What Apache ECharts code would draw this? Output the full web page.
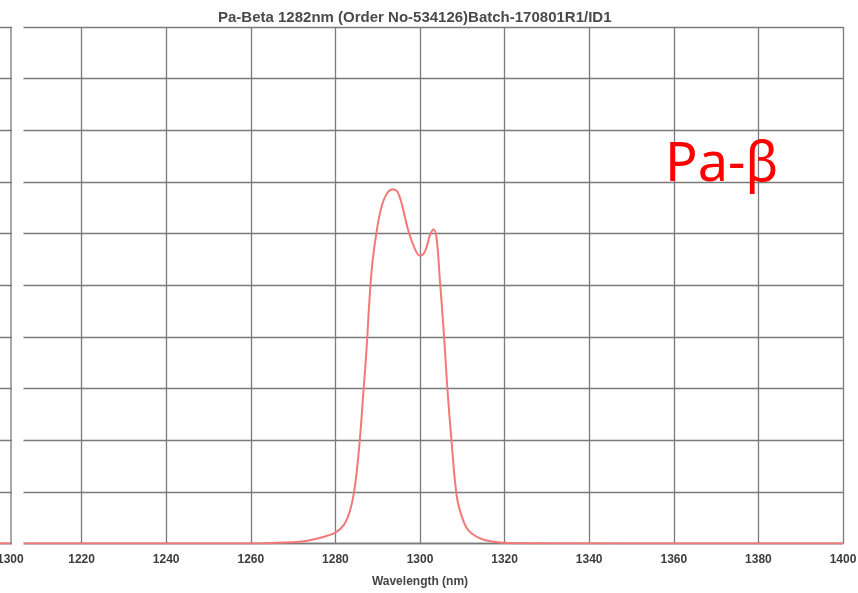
<!DOCTYPE html>
<html>
<head>
<meta charset="utf-8">
<script src="https://cdn.jsdelivr.net/npm/echarts@6/dist/echarts.min.js"></script>
<style>
html,body{margin:0;padding:0;background:#fff;}
#chart{width:858px;height:593px;}
</style>
</head>
<body>
<div id="chart"></div>
<script>
// Data
var titleText = 'Pa-Beta 1282nm (Order No-534126)Batch-170801R1/ID1';
var xAxisName = 'Wavelength (nm)';
var annotation = 'Pa-β';
var xTickValues = [1200, 1220, 1240, 1260, 1280, 1300, 1320, 1340, 1360, 1380, 1400];
var xTickLabels = ['1300', '1220', '1240', '1260', '1280', '1300', '1320', '1340', '1360', '1380', '1400'];
var wavelength = [1200, 1260, 1265, 1270, 1273, 1276, 1278, 1280, 1282, 1283.5, 1284.6, 1285.7, 1286.6, 1287.4, 1288, 1288.7, 1289.8, 1291, 1292.3, 1293.6, 1294.6, 1295.6, 1297.2, 1298.8, 1300, 1301.2, 1302.4, 1303.2, 1303.9, 1304.7, 1305.7, 1306.5, 1307.5, 1308.7, 1309.9, 1311.4, 1314.2, 1317.3, 1320, 1325, 1400];
var transmission = [0, 0, 0.1, 0.25, 0.5, 1.0, 1.5, 2.1, 3.6, 6.5, 11, 19.4, 29.1, 38.1, 46.5, 54.0, 60.7, 65.5, 67.9, 68.6, 68.2, 66.0, 60.7, 57.0, 55.7, 56.6, 59.8, 60.8, 59.2, 51, 40, 29.7, 19.4, 9.1, 5.2, 2.6, 1.0, 0.35, 0.15, 0.05, 0];

var seriesData = wavelength.map(function (w, i) { return [w, transmission[i]]; });
var labelMap = {};
xTickValues.forEach(function (v, i) { labelMap[v] = xTickLabels[i]; });

var chart = echarts.init(document.getElementById('chart'), null, {renderer: 'canvas'});
var gridColor = '#7a7a7a';
chart.setOption({
  animation: false,
  backgroundColor: '#ffffff',
  title: {
    text: titleText,
    left: 213,
    top: 5,
    textStyle: {fontFamily: 'Liberation Sans, Arial, sans-serif', fontSize: 15, fontWeight: 'bold', color: '#4a4a4a'}
  },
  grid: {left: -3, right: 15, top: 27, bottom: 49.5, outerBoundsMode: 'none', containLabel: false},
  xAxis: {
    type: 'value',
    min: 1200, max: 1400, interval: 20,
    name: xAxisName,
    nameLocation: 'middle',
    nameGap: 32,
    nameTextStyle: {fontFamily: 'Liberation Sans, Arial, sans-serif', fontSize: 12, fontWeight: 'bold', color: '#444'},
    axisLine: {show: true, lineStyle: {color: gridColor, width: 1.3}},
    axisTick: {show: false},
    axisLabel: {
      margin: 10,
      fontFamily: 'Liberation Sans, Arial, sans-serif', fontSize: 12, fontWeight: 'bold', color: '#3c3c3c',
      alignMinLabel: 'left',
      formatter: function (v) { return labelMap[v] !== undefined ? labelMap[v] : ''; }
    },
    splitLine: {show: true, lineStyle: {color: gridColor, width: 1.3}}
  },
  yAxis: {
    type: 'value',
    min: 0, max: 100, interval: 10,
    axisLine: {show: false},
    axisTick: {show: false},
    axisLabel: {show: false},
    splitLine: {show: true, lineStyle: {color: gridColor, width: 1.3}}
  },
  series: [{
    type: 'line',
    data: seriesData,
    showSymbol: false,
    smooth: 0.4,
    lineStyle: {color: '#f47878', width: 2},
    z: 3
  }],
  graphic: [
    {type: 'rect', shape: {x: 12, y: 18, width: 11.5, height: 533}, style: {fill: '#ffffff'}, z: 100},
    {type: 'line', shape: {x1: 11, y1: 27, x2: 11, y2: 544}, style: {stroke: gridColor, lineWidth: 1.3}, z: 101},
    {type: 'text', left: 665, top: 139, z: 102,
     style: {text: annotation, fill: '#ff0000', font: '54px "Noto Sans", "Open Sans", sans-serif'}}
  ]
});
</script>
</body>
</html>
